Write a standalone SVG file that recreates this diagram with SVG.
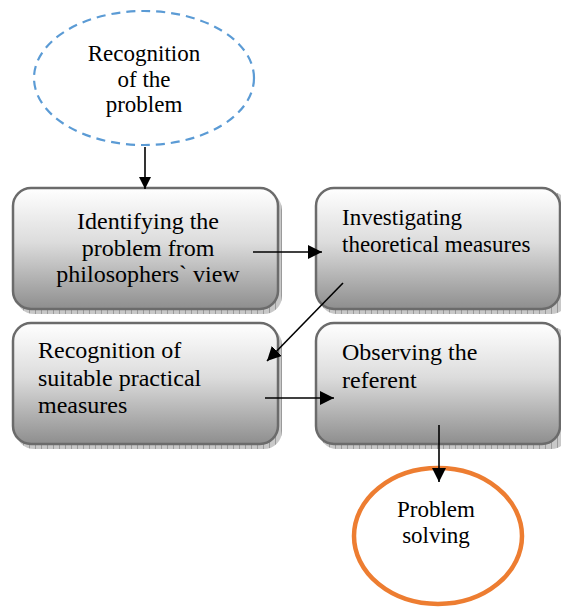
<svg xmlns="http://www.w3.org/2000/svg" width="561" height="607" viewBox="0 0 561 607" font-family="Liberation Serif, DejaVu Serif, serif">
<defs>
<linearGradient id="g" x1="0" y1="0" x2="0" y2="1">
<stop offset="0" stop-color="#ffffff"/>
<stop offset="0.45" stop-color="#dcdcdc"/>
<stop offset="1" stop-color="#8e8e8e"/>
</linearGradient>
<pattern id="hatch" width="6" height="4" patternUnits="userSpaceOnUse">
<rect width="6" height="4" fill="#c8c8c8"/>
<rect x="5" width="1" height="4" fill="#9a9a9a"/>
</pattern>
<marker id="ah" viewBox="0 0 12 12" refX="12" refY="6" markerWidth="12" markerHeight="12" markerUnits="userSpaceOnUse" orient="auto">
<path d="M0,0 L12,6 L0,12 Z" fill="#000"/>
</marker>
<marker id="ah2" viewBox="0 0 14 14" refX="14" refY="7" markerWidth="14" markerHeight="14" markerUnits="userSpaceOnUse" orient="auto">
<path d="M0,0 L14,7 L0,14 Z" fill="#000"/>
</marker>
<rect id="boxL" width="265" height="121" rx="18" fill="url(#g)" stroke="#6b6b6b" stroke-width="2.5"/>
<rect id="boxR" width="244" height="121" rx="18" fill="url(#g)" stroke="#6b6b6b" stroke-width="2.5"/>
</defs>

<g id="start">
<ellipse cx="144" cy="78" rx="110" ry="67" fill="#fff" stroke="#5b9bd5" stroke-width="2.2" stroke-dasharray="9,6"/>
<text x="144" y="61" font-size="23" text-anchor="middle">Recognition</text>
<text x="144" y="87" font-size="23" text-anchor="middle">of the</text>
<text x="144" y="112" font-size="23" text-anchor="middle">problem</text>
</g>

<g id="n1">
<rect x="16" y="192" width="266" height="122" rx="18" fill="url(#hatch)"/>
<use href="#boxL" x="13" y="188"/>
<text x="148" y="229" font-size="24" text-anchor="middle">Identifying the</text>
<text x="148" y="256" font-size="24" text-anchor="middle">problem from</text>
<text x="148" y="282" font-size="24" text-anchor="middle">philosophers` view</text>
</g>

<g id="n2">
<rect x="319" y="192" width="250" height="122" rx="18" fill="url(#hatch)"/>
<use href="#boxR" x="316" y="188"/>
<text x="342" y="225" font-size="23">Investigating</text>
<text x="342" y="252" font-size="23">theoretical measures</text>
</g>

<g id="n3">
<rect x="16" y="327" width="266" height="122" rx="18" fill="url(#hatch)"/>
<use href="#boxL" x="13" y="323"/>
<text x="38" y="358" font-size="24">Recognition of</text>
<text x="38" y="386" font-size="24">suitable practical</text>
<text x="38" y="413" font-size="24">measures</text>
</g>

<g id="n4">
<rect x="319" y="327" width="250" height="122" rx="18" fill="url(#hatch)"/>
<use href="#boxR" x="316" y="323"/>
<text x="342" y="360" font-size="24">Observing the</text>
<text x="342" y="388" font-size="24">referent</text>
</g>

<g id="end">
<ellipse cx="438" cy="536" rx="84" ry="68" fill="#fff" stroke="#ed7d31" stroke-width="4.5"/>
<text x="436" y="517" font-size="23" text-anchor="middle">Problem</text>
<text x="436" y="543" font-size="23" text-anchor="middle">solving</text>
</g>

<g id="connectors" stroke="#000" stroke-width="1.6" fill="none">
<line x1="145" y1="147" x2="145" y2="189" marker-end="url(#ah)"/>
<line x1="253" y1="252" x2="322" y2="252" marker-end="url(#ah2)"/>
<line x1="343" y1="283" x2="267" y2="361" marker-end="url(#ah2)"/>
<line x1="265" y1="398" x2="334" y2="398" marker-end="url(#ah2)"/>
<line x1="439" y1="425" x2="439" y2="482" marker-end="url(#ah2)"/>
</g>
</svg>
